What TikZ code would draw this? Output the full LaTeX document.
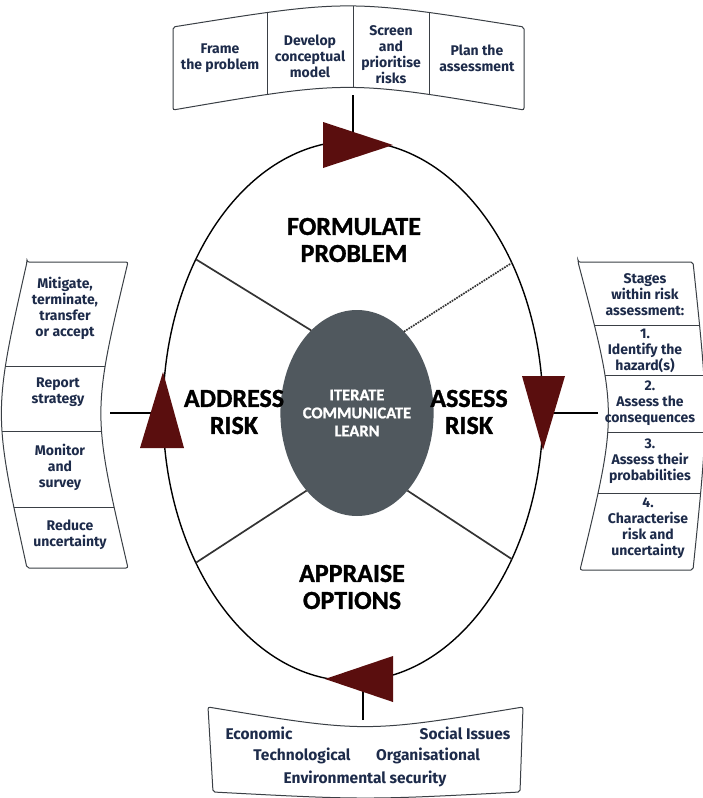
\documentclass[tikz,border=0pt]{standalone}
\usepackage{fontspec}
\setmainfont{Carlito}
\newfontfamily\stagefont{Carlito Bold}[FakeBold=1.2]
\newfontfamily\cellfont{Fira Sans}
\usetikzlibrary{
    shapes.geometric
}
\definecolor{arrowred}{HTML}{5A0E0E}
\definecolor{hubgray}{HTML}{50585E}
\definecolor{cellblue}{HTML}{1D2B4A}
\definecolor{edgegray}{HTML}{3A3F45}
\tikzset{%
    cycle ring/.style={%
        ellipse,
        draw,
        line width=1.4pt,
        inner sep = 0pt,
        outer sep = 0pt,
        minimum width=380pt,
        minimum height=540pt
    },
    hub/.style={%
        ellipse,
        fill=hubgray,
        text=white,
        inner sep = 0pt,
        outer sep = 0pt,
        minimum width=124pt,
        minimum height=206pt,
        align=center,
        font=\stagefont\fontsize{16.5}{18}\selectfont
    },
    spoke/.style={%
        draw=black!80,
        line width=1.7pt,
    },
    stage label/.style={%
        align=center,
        font=\stagefont\fontsize{26}{27}\selectfont
    },
    cell/.style={%
        align=center,
        inner sep=0pt,
        text=cellblue,
        font=\cellfont\bfseries\fontsize{14}{16}\selectfont
    },
    big cell/.style={%
        cell,
        font=\cellfont\bfseries\fontsize{15.5}{18}\selectfont
    },
    cell box/.style={%
        draw=edgegray,
        line width=1pt,
        rounded corners=2pt
    },
    cell line/.style={%
        draw=edgegray,
        line width=1pt
    },
    flow arrow/.style={%
        fill=arrowred
    },
    link/.style={%
        draw=black,
        line width=1.4pt
    },
}
\newcommand{\topBoxPath}{(173,27) .. controls (348,-1) .. (524,27) -- (524,110) .. controls (348,80) .. (173,110) -- cycle}
\newcommand{\leftBoxPath}{(27,262) -- (128,262) .. controls (92,413) .. (128,568) -- (27,568) .. controls (-7,413) .. (27,262) -- cycle}
\newcommand{\rightBoxPath}{(578,262) -- (693,262) .. controls (709,413) .. (693,570) -- (580,570) .. controls (618,413) .. (578,262) -- cycle}
\newcommand{\bottomBoxPath}{(208,707) .. controls (365,733) .. (523,707) -- (520,792) .. controls (365,800) .. (213,792) -- cycle}

\begin{document}
\begin{tikzpicture}[x=1pt, y=-1pt]
    \fill[white] (0,0) rectangle (703,798);
    \useasboundingbox (0,0) rectangle (703,798);

    \node[cycle ring] (ring) at (353,411) {};
    \node[hub] (hub) at (357,413) {ITERATE\\COMMUNICATE\\LEARN};

    \draw[spoke] (hub.119) -- (ring.136);
    \draw[spoke, densely dotted] (hub.60) -- (ring.43);
    \draw[spoke] (hub.237) -- (ring.224);
    \draw[spoke] (hub.303) -- (ring.317);

    \node[stage label] (formulate) at (354,240) {FORMULATE\\PROBLEM};
    \node[stage label] (address) at (234,412) {ADDRESS\\RISK};
    \node[stage label] (assess) at (469,412) {ASSESS\\RISK};
    \node[stage label] (appraise) at (352,587) {APPRAISE\\OPTIONS};

    % boxes round the cycle
    \begin{scope}
        \clip \topBoxPath;
        \foreach \x in {267,353,429}
            \draw[cell line] (\x,0) -- (\x,120);
    \end{scope}
    \draw[cell box] \topBoxPath;

    \begin{scope}
        \clip \leftBoxPath;
        \foreach \y in {366,431,507}
            \draw[cell line] (0,\y) -- (140,\y);
    \end{scope}
    \draw[cell box] \leftBoxPath;

    \begin{scope}
        \clip \rightBoxPath;
        \foreach \y in {325,375,432,493}
            \draw[cell line] (570,\y) -- (703,\y);
    \end{scope}
    \draw[cell box] \rightBoxPath;

    \draw[cell box] \bottomBoxPath;

    \coordinate (topFoot) at (353,95);
    \coordinate (topPin) at (353,140);
    \coordinate (leftFoot) at (110,413);
    \coordinate (leftPin) at (158,413);
    \coordinate (rightFoot) at (598,413);
    \coordinate (rightPin) at (550,413);
    \coordinate (bottomFoot) at (363,720);
    \coordinate (bottomPin) at (363,688);

    \draw[link] (topFoot) -- (topPin);
    \draw[link] (leftFoot) -- (leftPin);
    \draw[link] (rightFoot) -- (rightPin);
    \draw[link] (bottomFoot) -- (bottomPin);

    \fill[flow arrow] (323,122) -- (393,145) -- (323,168) -- cycle;
    \fill[flow arrow] (140,448) -- (163,372) -- (184,448) -- cycle;
    \fill[flow arrow] (522,376) -- (565,376) -- (543,450) -- cycle;
    \fill[flow arrow] (393,656) -- (325,679) -- (393,702) -- cycle;

    \node[cell] (frame) at (220,58) {Frame\\the problem};
    \node[cell] (develop) at (310,56) {Develop\\conceptual\\model};
    \node[cell] (screen) at (391,55) {Screen\\and\\prioritise\\risks};
    \node[cell] (plan) at (477,58) {Plan the\\assessment};

    \node[cell] (mitigate) at (65,308) {Mitigate,\\terminate,\\transfer\\or accept};
    \node[cell] (report) at (58,392) {Report\\strategy};
    \node[cell] (monitor) at (60,467) {Monitor\\and\\survey};
    \node[cell] (reduce) at (70,535) {Reduce\\uncertainty};

    \node[cell] (stages) at (645,295) {Stages\\within risk\\assessment:};
    \node[cell] (identify) at (645,351) {1.\\Identify the\\hazard(s)};
    \node[cell] (consequences) at (650,403) {2.\\Assess the\\consequences};
    \node[cell] (probabilities) at (650,461) {3.\\Assess their\\probabilities};
    \node[cell] (characterise) at (648,528) {4.\\Characterise\\risk and\\uncertainty};

    \node[big cell] (economic) at (259,733) {Economic};
    \node[big cell] (social) at (465,733) {Social Issues};
    \node[big cell] (technological) at (302,756) {Technological};
    \node[big cell] (organisational) at (428,756) {Organisational};
    \node[big cell] (environmental) at (365,779) {Environmental security};
\end{tikzpicture}
\end{document}
